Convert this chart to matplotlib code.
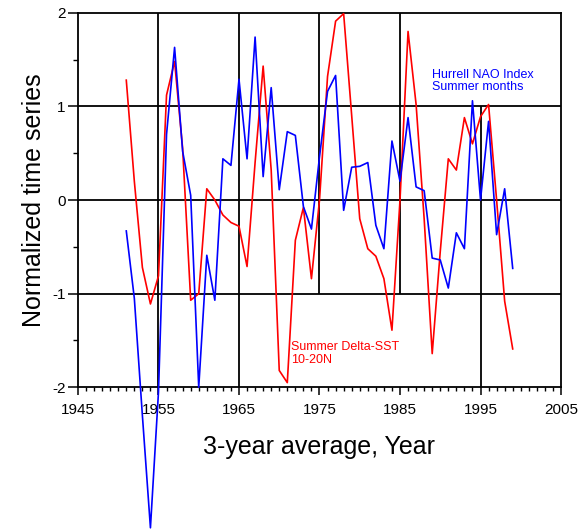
import matplotlib
matplotlib.use('Agg')
import matplotlib.pyplot as plt
from matplotlib.ticker import MultipleLocator

plt.rcParams['font.family'] = ['Liberation Sans', 'DejaVu Sans']
plt.rcParams['axes.unicode_minus'] = False

years = list(range(1951, 2000))

# Hurrell NAO index, summer months (3-year average)
nao = [-0.33, -1.05, -2.3, -3.5, -2.05, 0.7, 1.63, 0.52, 0.05, -2.0,
       -0.59, -1.07, 0.44, 0.37, 1.29, 0.44, 1.74, 0.25, 1.20, 0.11,
       0.73, 0.69, -0.07, -0.31, 0.46, 1.16, 1.33, -0.11, 0.35, 0.36,
       0.40, -0.27, -0.52, 0.63, 0.20, 0.88, 0.14, 0.10, -0.62, -0.64,
       -0.94, -0.35, -0.52, 1.06, 0.0, 0.84, -0.37, 0.12, -0.73]

# Summer delta-SST 10-20N
sst = [1.28, 0.2, -0.72, -1.11, -0.81, 1.12, 1.48, 0.55, -1.07, -1.0,
       0.12, 0.0, -0.16, -0.24, -0.28, -0.71, 0.4, 1.43, 0.32, -1.82,
       -1.95, -0.43, -0.08, -0.84, 0.0, 1.32, 1.91, 1.99, 0.9, -0.2,
       -0.52, -0.6, -0.84, -1.39, 0.0, 1.8, 1.02, -0.2, -1.64, -0.55,
       0.44, 0.32, 0.88, 0.6, 0.89, 1.02, 0.0, -1.08, -1.59]

xticks = [1945, 1955, 1965, 1975, 1985, 1995, 2005]
yticks = [-2, -1, 0, 1, 2]

# reference lines drawn inside the frame
vline_years = [1955, 1965, 1975, 1985, 1995]
vline_low = [-2, -2, -1, -1, -2]
vline_high = [2, 2, 2, 2, 1]
hline_values = [1, 0, -1]

fig = plt.figure(figsize=(5.85, 5.3), dpi=100)
ax = fig.add_axes([0.1333, 0.2692, 0.8257, 0.7068])

ax.vlines(vline_years, vline_low, vline_high, colors='k', linewidth=1.3, zorder=1)
ax.hlines(hline_values, 1945, 2005, colors='k', linewidth=1.3, zorder=1)

ax.plot(years, sst, color='#ff0000', linewidth=1.2, clip_on=False, zorder=3)
ax.plot(years, nao, color='#0000ff', linewidth=1.2, clip_on=False, zorder=3)

ax.text(1989.0, 1.27, 'Hurrell NAO Index\nSummer months', color='#0000ff',
        fontsize=9, va='center', ha='left', linespacing=1.05)
ax.text(1971.5, -1.64, 'Summer Delta-SST\n10-20N', color='#ff0000',
        fontsize=9, va='center', ha='left', linespacing=1.05)

ax.set_xlim(1945, 2005)
ax.set_ylim(-2, 2)
ax.set_xticks(xticks)
ax.set_yticks(yticks)
ax.xaxis.set_minor_locator(MultipleLocator(1))
ax.yaxis.set_minor_locator(MultipleLocator(0.5))
ax.tick_params(axis='x', which='major', direction='out', length=6, width=1.1, pad=5, labelsize=11)
ax.tick_params(axis='x', which='minor', direction='out', length=3, width=1.0)
ax.tick_params(axis='y', which='major', direction='out', length=7, width=1.1, pad=2, labelsize=11)
ax.tick_params(axis='y', which='minor', direction='out', length=3.5, width=1.0)
for s in ax.spines.values():
    s.set_linewidth(1.3)

ax.set_xlabel('3-year average, Year', fontsize=18, labelpad=13)
ax.set_ylabel('Normalized time series', fontsize=18, labelpad=4)

fig.savefig('out.png', dpi=100)
